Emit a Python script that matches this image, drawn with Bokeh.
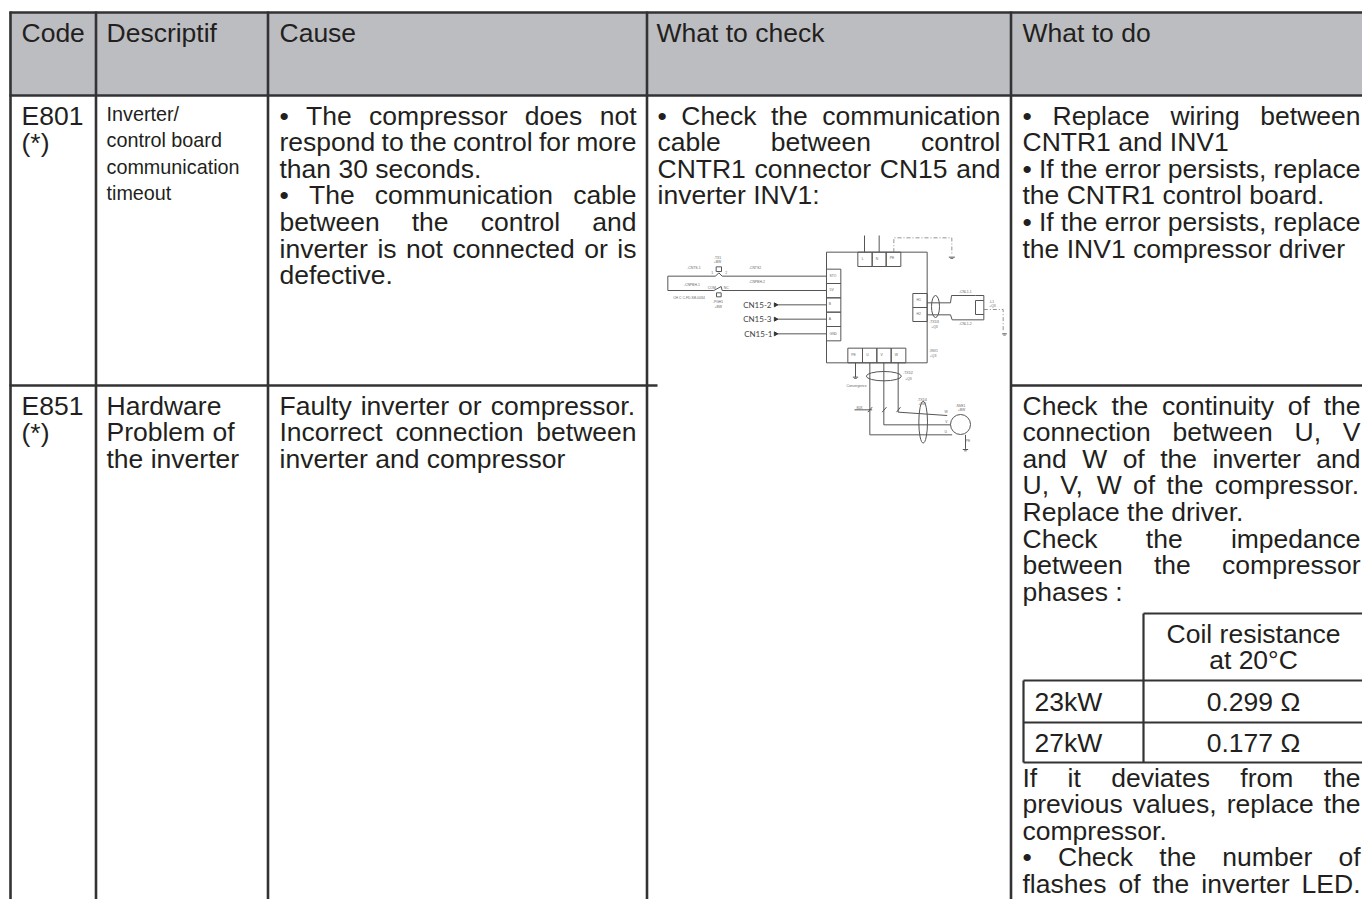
from bokeh.plotting import figure
from bokeh.models import Range1d
from bokeh.core.properties import value
from bokeh.embed import file_html
from bokeh.resources import INLINE

FONT = "Liberation Sans"
INK = "#231F20"
RULE = "#333335"
HEAD = "#BCBDC0"
DROP = 0.377   # distance Bokeh's text layout puts below the requested baseline, in em

headers = ["Code", "Descriptif", "Cause", "What to check", "What to do"]
code_lines = ["E801", "(*)", "E851", "(*)"]
desc_small = ["Inverter/", "control board", "communication", "timeout"]
desc_large = ["Hardware", "Problem of", "the inverter"]
cause_1 = [("• The compressor does not", 1), ("respond to the control for more", 1), ("than 30 seconds.", 0),
           ("• The communication cable", 1), ("between the control and", 1),
           ("inverter is not connected or is", 1), ("defective.", 0)]
cause_2 = [("Faulty inverter or compressor.", 1), ("Incorrect connection between", 1), ("inverter and compressor", 0)]
check_1 = [("• Check the communication", 1), ("cable between control", 1), ("CNTR1 connector CN15 and", 1), ("inverter INV1:", 0)]
do_1 = [("• Replace wiring between", 1), ("CNTR1 and INV1", 0), ("• If the error persists, replace", 1),
        ("the CNTR1 control board.", 0), ("• If the error persists, replace", 1), ("the INV1 compressor driver", 0)]
do_2 = [("Check the continuity of the", 1), ("connection between U, V", 1), ("and W of the inverter and", 1),
        ("U, V, W of the compressor.", 1), ("Replace the driver.", 0), ("Check the impedance", 1),
        ("between the compressor", 1), ("phases :", 0)]
do_3 = [("If it deviates from the", 1), ("previous values, replace the", 1), ("compressor.", 0),
        ("• Check the number of", 1), ("flashes of the inverter LED.", 1)]
coil_head = ["Coil resistance", "at 20°C"]
coil_rows = ["23kW", "27kW"]
coil_vals = ["0.299 Ω", "0.177 Ω"]

W = {' ':278,'•':350,',':278,'.':278,':':278,'/':278,'(':333,')':333,'*':389,'0':556,'1':556,'2':556,'3':556,'4':556,'5':556,'6':556,'7':556,'8':556,'9':556,
     'a':556,'b':556,'c':500,'d':556,'e':556,'f':278,'g':556,'h':556,'i':222,'j':222,'k':500,'l':222,'m':833,'n':556,'o':556,'p':556,'q':556,'r':333,'s':500,'t':278,'u':556,'v':500,'w':722,'x':500,'y':500,'z':500,
     'A':667,'B':667,'C':722,'D':722,'E':667,'F':611,'H':722,'I':278,'L':556,'N':722,'P':667,'R':722,'T':611,'U':722,'V':667,'W':944}
SIZE = 26.5
LEAD = 26.6

def width(s):
    return sum(W.get(c, 556) for c in s) * SIZE / 1000

p = figure(width=1362, height=899, x_range=Range1d(1, 1363), y_range=Range1d(899, 0),
           output_backend="svg", toolbar_location=None, min_border=0,
           x_axis_type=None, y_axis_type=None, background_fill_color="white", border_fill_color="white", outline_line_color=None)
p.grid.visible = False

tx, ty, tt = [], [], []
def put(x, y, s):
    tx.append(x); ty.append(y - DROP * SIZE); tt.append(s)

def block(lines, x0, x1, y0):
    for i, (s, just) in enumerate(lines):
        y = y0 + i * LEAD
        words = s.split(" ")
        if just and len(words) > 1:
            gap = ((x1 - x0) - sum(width(w) for w in words)) / (len(words) - 1)
            x = x0
            for w in words:
                put(x, y, w)
                x += width(w) + gap
        else:
            put(x0, y, s)

# header
p.quad(left=[10], right=[1363], top=[12], bottom=[95], fill_color=HEAD, line_color=None)

# text blocks
for x, s in zip([22, 107, 280, 657, 1023], headers):
    put(x, 42, s)
put(22, 125, code_lines[0]); put(22, 152, code_lines[1])
put(22, 415, code_lines[2]); put(22, 442, code_lines[3])
for i, s in enumerate(desc_large):
    put(107, 415 + i * LEAD, s)
block(cause_1, 280, 637, 125)
block(cause_2, 280, 637, 415)
block(check_1, 658, 1001, 125)
block(do_1, 1023, 1361, 125)
block(do_2, 1023, 1361, 415)
block(do_3, 1023, 1361, 787)
put(1035, 711, coil_rows[0]); put(1035, 752, coil_rows[1])

p.text(tx, ty, text=tt, text_font=value(FONT), text_font_size="26.5px", text_color=INK, text_baseline="alphabetic", text_align="left")
p.text([107] * 4, [v - 1 - DROP * 19.8 for v in [121.5, 148, 175, 201]], text=desc_small, text_font=value(FONT), text_font_size="19.8px", text_color=INK, text_baseline="alphabetic")
p.text([1254] * 4, [v - DROP * SIZE for v in [643, 669, 711, 752]], text=coil_head + coil_vals, text_font=value(FONT), text_font_size="26.5px",
       text_color=INK, text_baseline="alphabetic", text_align="center")

# table rules
p.multi_line([[11, 11], [96.5, 96.5], [268.5, 268.5], [647.5, 647.5], [1011.5, 1011.5]], [[11, 899]] * 5, line_color=RULE, line_width=2.6)
p.multi_line([[10, 1363], [10, 1363]], [[12, 12], [95, 95]], line_color=RULE, line_width=2.6)
p.multi_line([[10, 658], [1011, 1363]], [[385, 385], [385, 385]], line_color=RULE, line_width=2.6)

# coil table rules
p.multi_line([[1144, 1363], [1024, 1363], [1024, 1363], [1024, 1363], [1144, 1144], [1024, 1024]],
             [[613, 613], [680, 680], [722, 722], [762, 762], [613, 762], [680, 762]],
             line_color=RULE, line_width=2.2)

# wiring diagram, in a local drawing space
DX, DY, DS = 651, 225, 1 / 3
def zx(v): return DX + v * DS
def zy(v): return DY + v * DS

rects = [(528,80,830,412),(622,80,665,123),(665,80,707,123),(707,80,751,123),
         (528,131,571,174),(528,174,571,217),(528,217,571,260),(528,260,571,303),(528,303,571,346),
         (787,204,830,246),(787,246,830,288),
         (592,368,636,412),(636,368,679,412),(679,368,722,412),(722,368,766,412),(975,225,1000,267),(197,124,213,138),(198,202,212,214)]
wires = [[(642,30),(642,80)],[(686,30),(686,80)],
         [(528,152),(215,152),(205,142),(195,152),(52,152),(52,195),(190,195),(212,183),(215,195),(528,195)],
         [(375,238),(528,238)],[(375,281),(528,281)],[(375,325),(528,325)],
         [(830,232),(900,232),(903,210),(975,210),(1000,210),(1000,225)],[(830,268),(900,268),(905,283),(1000,283),(1000,267)],
         [(615,412),(615,455)],[(658,412),(658,628),(905,628)],[(700,412),(700,598),(900,598)],[(743,412),(743,560),(890,570)],
         [(945,628),(945,670)],[(612,553),(665,553)],[(652,560),(665,545)],[(695,560),(708,545)],[(738,560),(750,545)]]
grounds = [(904,95,9),(615,455,8),(945,672,8),(1062,325,7)]
dashed = [[(730,80),(730,37),(904,37),(904,90)],[(1000,252),(1058,252),(1058,320)]]
ovals = [(855,243,24,66),(700,452,105,28),(818,590,26,125),(930,597,60,60)]
arrows = [(375,238),(375,281),(375,325)]
cn_labels = ["CN15-2", "CN15-3", "CN15-1"]
cn_pos = [(278,247),(278,290),(281,334)]
tiny = [("-CNTS-1",110,130),("-CNTS2",295,132),("-TX1",190,100),("+BW",190,113),("1",182,145),("2",224,145),
        ("-CNPBH-1",100,182),("-CNPBH-2",295,174),("COM",172,190),("NC",220,190),("CH C C-FD-SB-0034",68,222),("-PGH1",187,232),("+BW",192,248),
        ("STO",537,154),("5V",537,197),("B",535,240),("A",535,284),("GND",537,328),("L",634,105),("N",676,105),("PE",718,102),
        ("H1",798,226),("H2",798,268),("PE",602,391),("U",647,391),("V",690,391),("W",733,391),
        ("-CNL1-1",925,203),("-CNL1-2",925,298),("-L1",1016,232),("+Q3",1016,245),("-TXD3",836,293),("+Q3",842,308),
        ("-INV1",836,380),("+Q3",838,396),("-TXD2",758,447),("+Q3",764,463),("Convergence",588,486),("-TXD4",800,528),("+BW",804,540),
        ("-NVE1",915,545),("+BW",922,557),("80X",618,552),("PE",946,650),("U",882,624),("V",884,594),("W",882,562)]

r = list(zip(*rects))
p.quad(left=[zx(v) for v in r[0]], right=[zx(v) for v in r[2]], top=[zy(v) for v in r[1]], bottom=[zy(v) for v in r[3]],
       fill_color=None, line_color="#555555", line_width=1)
p.multi_line([[zx(a) for a, _ in w] for w in wires], [[zy(b) for _, b in w] for w in wires], line_color="#555555", line_width=1)
p.multi_line([[zx(a) for a, _ in w] for w in dashed], [[zy(b) for _, b in w] for w in dashed], line_color="#777777", line_width=0.8, line_dash="4 2 1 2")
p.multi_line([[zx(g[0]-g[2]), zx(g[0]+g[2])] for g in grounds], [[zy(g[1]), zy(g[1])] for g in grounds], line_color="#555555", line_width=1)
p.multi_line([[zx(g[0]-g[2]*.5), zx(g[0]+g[2]*.5)] for g in grounds], [[zy(g[1]+4), zy(g[1]+4)] for g in grounds], line_color="#555555", line_width=0.8)
o = list(zip(*ovals))
p.ellipse(x=[zx(v) for v in o[0]], y=[zy(v) for v in o[1]], width=[v * DS for v in o[2]], height=[v * DS for v in o[3]],
          fill_color=None, line_color="#555555", line_width=1)
a = list(zip(*arrows))
p.scatter(x=[zx(v) for v in a[0]], y=[zy(v) for v in a[1]], marker="triangle", size=4, angle=-1.5708, color="#333333")
c = list(zip(*cn_pos))
p.text([zx(v) for v in c[0]], [zy(v) - DROP * 8 for v in c[1]], text=cn_labels, text_font=value("Lato"), text_font_size="8px", text_color="#444444", text_baseline="alphabetic")
s, tzx, tzy = zip(*tiny)
p.text([zx(v) for v in tzx], [zy(v) - DROP * 3.4 for v in tzy], text=list(s), text_font=value(FONT), text_font_size="3.4px", text_color="#666666", text_baseline="alphabetic")

open("out.html", "w").write(file_html(p, INLINE))
